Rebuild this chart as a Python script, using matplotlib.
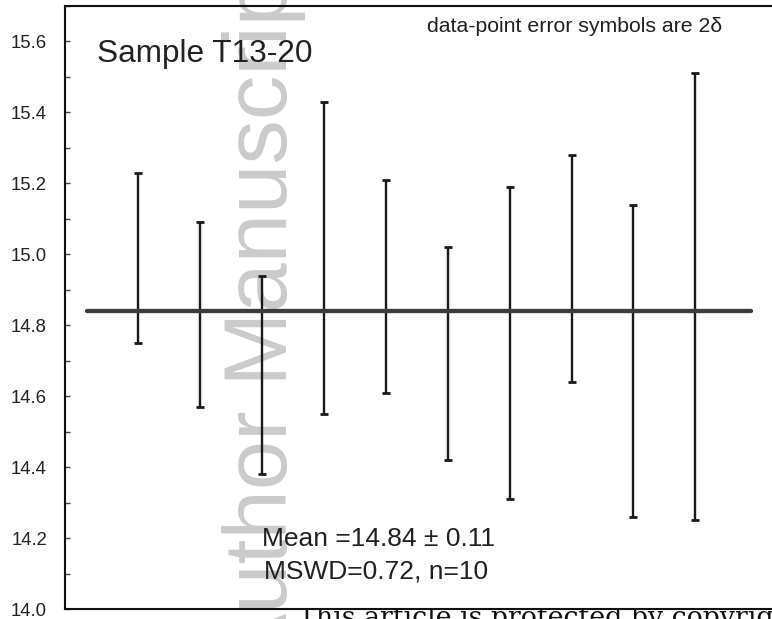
import numpy as np
import matplotlib.pyplot as plt
from matplotlib.ticker import MultipleLocator

# analyses (age, 2-sigma error)
analysis = list(range(1, 11))
ages = [14.99, 14.83, 14.66, 14.99, 14.91, 14.72, 14.75, 14.96, 14.70, 14.88]
err2s = [0.24, 0.26, 0.28, 0.44, 0.30, 0.30, 0.44, 0.32, 0.44, 0.63]
mean_age = 14.84
mean_err = 0.11
mswd = 0.72

plt.rcParams['font.family'] = ['Liberation Sans', 'DejaVu Sans']

W, H = 772, 619
fig = plt.figure(figsize=(W / 100, H / 100), dpi=100)
# axes runs off the right edge of the figure, as in the original crop
ax = fig.add_axes([65 / W, 10 / H, 735 / W, 603 / H])

ax.errorbar(analysis, ages, yerr=err2s, fmt='none', ecolor='#1a1a1a',
            elinewidth=1.7, capsize=3, capthick=2, zorder=3)
ax.plot([0.18, 10.9], [mean_age, mean_age], color='#3c3c3c', linewidth=3.1,
        solid_capstyle='round', zorder=4)

ax.set_xlim(-0.18, 11.69)
ax.set_ylim(14.0, 15.7)
ax.yaxis.set_major_locator(MultipleLocator(0.2))
ax.yaxis.set_minor_locator(MultipleLocator(0.1))
ax.yaxis.set_major_formatter(lambda v, p: f'{v:.1f}')
ax.tick_params(axis='y', which='both', direction='in', length=3.5, width=1,
               colors='#444444', labelcolor='#222222', labelsize=13.3, pad=13)
ax.set_xticks([])
ax.spines['right'].set_visible(False)
for s in ['left', 'top', 'bottom']:
    ax.spines[s].set_linewidth(1.5)
    ax.spines[s].set_color('#111111')

# watermark behind the data
ax.text(287 / W, 1 - 672 / H, 'Author Manuscript', transform=fig.transFigure,
        rotation=90, rotation_mode='anchor', ha='left', va='baseline',
        fontsize=64, color='#cbcbcb', zorder=0, clip_on=False)

fig.text(97 / W, 1 - 62 / H, 'Sample T13-20', fontsize=22.7, color='#222222',
         va='baseline')
fig.text(427 / W, 1 - 32 / H, 'data-point error symbols are 2δ', fontsize=15.3,
         color='#222222', va='baseline')
ax.text(378.5 / W, 1 - 546 / H, f'Mean ={mean_age:.2f} ± {mean_err:.2f}',
        transform=fig.transFigure, ha='center', va='baseline',
        fontsize=19, color='#222222', zorder=5)
ax.text(376 / W, 1 - 578 / H, f'MSWD={mswd:.2f}, n={len(ages)}',
        transform=fig.transFigure, ha='center', va='baseline',
        fontsize=19, color='#222222', zorder=5)

fig.text(298 / W, 1 - 626 / H, 'This article is protected by copyright. All rights reserved',
         family='DejaVu Serif', fontsize=19.3, color='#111111', va='baseline',
         zorder=-1)

fig.savefig('out.png', dpi=100)
